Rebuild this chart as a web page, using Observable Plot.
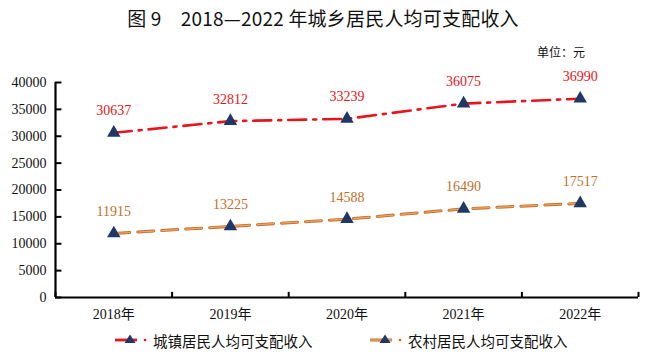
<!DOCTYPE html>
<html><head><meta charset="utf-8">
<script src="https://cdn.jsdelivr.net/npm/d3@7"></script>
<script src="https://cdn.jsdelivr.net/npm/@observablehq/plot@0.6"></script>
<style>
body{margin:0;background:#fff;width:646px;height:357px;position:relative;overflow:hidden;font-family:"Noto Sans CJK SC","Noto Sans",sans-serif}
#title{position:absolute;left:0;top:4px;width:646px;text-align:center;font-size:19px;font-weight:400;color:#111;letter-spacing:0.2px}
#unit{position:absolute;left:537px;top:43px;font-size:12px;color:#111}
#chart{position:absolute;left:0;top:60px}
#legend{position:absolute;top:329px;left:0;width:646px;font-size:14.5px;color:#111}
.item{position:absolute;display:flex;align-items:center;height:22px}
</style></head>
<body>
<div id="title">图 9　2018—2022 年城乡居民人均可支配收入</div>
<div id="unit">单位：元</div>
<div id="chart"></div>
<div id="legend"></div>
<script>
const years = ["2018年","2019年","2020年","2021年","2022年"];
const urban = [30637,32812,33239,36075,36990];
const rural = [11915,13225,14588,16490,17517];
const yTicks = [0,5000,10000,15000,20000,25000,30000,35000,40000];
const seriesNames = ["城镇居民人均可支配收入","农村居民人均可支配收入"];
const urbanColor = "#e8141b";
const ruralColor = "#c46f2a";
const ruralLight = "#f0a466";
const markerColor = "#1f3864";

const uData = years.map((y,i)=>({x:i+0.5, year:y, v:urban[i]}));
const rData = years.map((y,i)=>({x:i+0.5, year:y, v:rural[i]}));
const bounds = d3.range(0, years.length+1);
const serif = "'Liberation Serif','Times New Roman','Noto Sans CJK SC',serif";

const chart = Plot.plot({
  width:646, height:270,
  marginLeft:55, marginRight:8, marginTop:22, marginBottom:33,
  style:{fontFamily:serif, fontSize:"14px", background:"transparent", color:"#111"},
  x:{domain:[0,years.length], axis:null},
  y:{domain:[0,40000], axis:null},
  marks:[
    Plot.axisY({ticks:yTicks, tickSize:0, tickPadding:9, fontSize:14, label:null, tickFormat:d=>String(d), fontFamily:serif}),
    Plot.axisX({ticks:years.map((_,i)=>i+0.5), tickSize:0, tickPadding:12, fontSize:14, label:null, tickFormat:(d)=>years[Math.round(d-0.5)], fontFamily:serif}),
    Plot.ruleY(yTicks, {x1:0, x2:0.055, stroke:"#000", strokeWidth:2}),
    Plot.ruleX(bounds, {y1:0, y2:950, stroke:"#000", strokeWidth:2}),
    Plot.ruleX([0], {stroke:"#000", strokeWidth:2.2}),
    Plot.ruleY([0], {stroke:"#000", strokeWidth:2.2}),
    Plot.line(uData, {x:"x", y:"v", stroke:urbanColor, strokeWidth:2.6, strokeDasharray:"18,7,3,7"}),
    Plot.line(rData, {x:"x", y:"v", stroke:ruralColor, strokeWidth:3, strokeDasharray:"16,8"}),
    Plot.line(rData, {x:"x", y:"v", stroke:ruralLight, strokeWidth:1.2, strokeDasharray:"16,8"}),
    Plot.dot(uData, {x:"x", y:"v", symbol:"triangle", r:5, fill:markerColor, stroke:"none"}),
    Plot.dot(rData, {x:"x", y:"v", symbol:"triangle", r:5, fill:markerColor, stroke:"none"}),
    Plot.text(uData, {x:"x", y:"v", text:d=>String(d.v), dy:-22, fill:urbanColor, fontSize:14, fontFamily:serif}),
    Plot.text(rData, {x:"x", y:"v", text:d=>String(d.v), dy:-22, fill:ruralColor, fontSize:14, fontFamily:serif})
  ]
});
document.getElementById("chart").appendChild(chart);

function swatch(color, light){
  const w=36;
  let s = `<svg width="${w}" height="16" style="margin-right:2px">`;
  if (light) {
    s += `<line x1="0" y1="8" x2="22" y2="8" stroke="${color}" stroke-width="3"/>`;
    s += `<line x1="0" y1="8" x2="22" y2="8" stroke="${light}" stroke-width="1.2"/>`;
  } else {
    s += `<line x1="0" y1="8" x2="22" y2="8" stroke="${color}" stroke-width="2.8"/>`;
  }
  s += `<circle cx="30" cy="8" r="1.3" fill="${color}"/>`;
  s += `<path d="M15,2.5 L20.5,11 L9.5,11 Z" fill="${markerColor}"/>`;
  s += `</svg>`;
  return s;
}
const lg = document.getElementById("legend");
lg.innerHTML =
 `<div class="item" style="left:115px">${swatch(urbanColor,null)}<span>${seriesNames[0]}</span></div>`+
 `<div class="item" style="left:370px">${swatch(ruralColor,ruralLight)}<span>${seriesNames[1]}</span></div>`;
</script>
</body></html>
